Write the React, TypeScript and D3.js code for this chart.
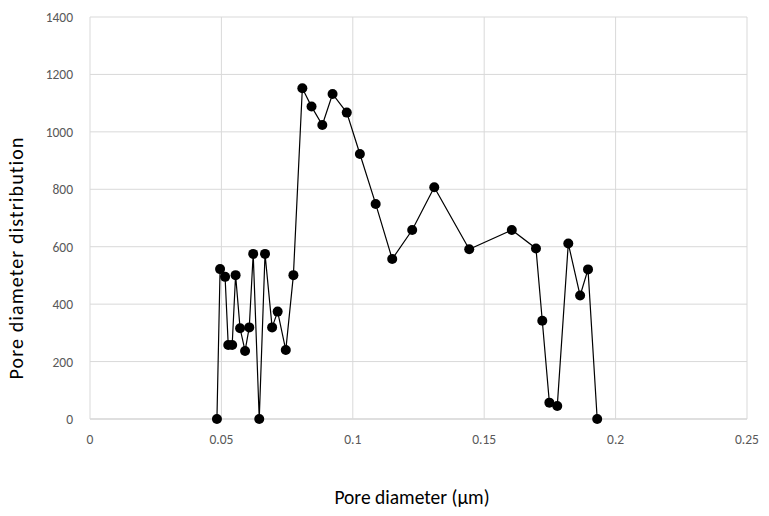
import { useEffect, useRef } from "react";
import * as d3 from "d3";

// pore diameter (µm)
const diameters = [
  0.0483, 0.0495, 0.0514, 0.0526, 0.0541, 0.0554, 0.0571, 0.059, 0.0606, 0.0621,
  0.0644, 0.0666, 0.0693, 0.0714, 0.0745, 0.0774, 0.0808, 0.0843, 0.0884, 0.0923,
  0.0977, 0.1027, 0.1087, 0.115, 0.1226, 0.131, 0.1443, 0.1605, 0.1697, 0.1721,
  0.1748, 0.1778, 0.182, 0.1865, 0.1895, 0.193,
];
// pore diameter distribution
const distribution = [
  0, 522, 495, 258, 258, 501, 316, 237, 319, 575,
  0, 575, 319, 374, 240, 501, 1152, 1088, 1024, 1132,
  1067, 923, 749, 557, 658, 807, 591, 658, 594, 342,
  57, 45, 611, 430, 521, 0,
];
const xTicks = [0, 0.05, 0.1, 0.15, 0.2, 0.25];
const yTicks = [0, 200, 400, 600, 800, 1000, 1200, 1400];

const App = () => {
  const svgRef = useRef<SVGSVGElement>(null);

  useEffect(() => {
    const svg = d3.select(svgRef.current);
    svg.selectAll("*").remove();

    const font = "Calibri, Carlito, Lato, 'Open Sans', sans-serif";
    const x = d3.scaleLinear().domain([0, 0.25]).range([90, 747]);
    const y = d3.scaleLinear().domain([0, 1400]).range([419, 17]);

    const grid = svg.append("g");
    grid
      .selectAll(".hgrid")
      .data(yTicks)
      .enter()
      .append("line")
      .attr("x1", x(0))
      .attr("x2", x(0.25))
      .attr("y1", (d) => y(d))
      .attr("y2", (d) => y(d))
      .attr("stroke", (d) => (d === 0 ? "#bfbfbf" : "#d9d9d9"))
      .attr("stroke-width", 1);
    grid
      .selectAll(".vgrid")
      .data(xTicks)
      .enter()
      .append("line")
      .attr("x1", (d) => x(d))
      .attr("x2", (d) => x(d))
      .attr("y1", y(0))
      .attr("y2", y(1400))
      .attr("stroke", "#d9d9d9")
      .attr("stroke-width", 1);

    svg
      .selectAll(".ylab")
      .data(yTicks)
      .enter()
      .append("text")
      .attr("x", 73)
      .attr("y", (d) => y(d) + 5)
      .attr("text-anchor", "end")
      .style("font-family", font)
      .style("font-size", "13.5px")
      .style("fill", "#595959")
      .text((d) => d);

    svg
      .selectAll(".xlab")
      .data(xTicks)
      .enter()
      .append("text")
      .attr("x", (d) => x(d))
      .attr("y", 444)
      .attr("text-anchor", "middle")
      .style("font-family", font)
      .style("font-size", "13.5px")
      .style("fill", "#595959")
      .text((d) => d);

    const pts = diameters.map((d, i) => [d, distribution[i]] as [number, number]);
    const line = d3
      .line<[number, number]>()
      .x((d) => x(d[0]))
      .y((d) => y(d[1]));

    svg
      .append("path")
      .attr("d", line(pts))
      .attr("fill", "none")
      .attr("stroke", "#000")
      .attr("stroke-width", 1.2);

    svg
      .selectAll(".dot")
      .data(pts)
      .enter()
      .append("circle")
      .attr("cx", (d) => x(d[0]))
      .attr("cy", (d) => y(d[1]))
      .attr("r", 5)
      .attr("fill", "#000");

    svg
      .append("text")
      .attr("x", 412)
      .attr("y", 504)
      .attr("text-anchor", "middle")
      .style("font-family", font)
      .style("font-size", "19.5px")
      .style("fill", "#000")
      .text("Pore diameter (µm)");

    svg
      .append("text")
      .attr("transform", `translate(23,258) rotate(-90)`)
      .attr("text-anchor", "middle")
      .style("font-family", font)
      .style("font-size", "20px")
      .style("letter-spacing", "1.1px")
      .style("fill", "#000")
      .text("Pore diameter distribution");
  }, []);

  return (
    <div style={{ margin: -8 }}>
      <svg ref={svgRef} width={769} height={516} style={{ display: "block", background: "#fff" }}></svg>
    </div>
  );
};

export default App;
